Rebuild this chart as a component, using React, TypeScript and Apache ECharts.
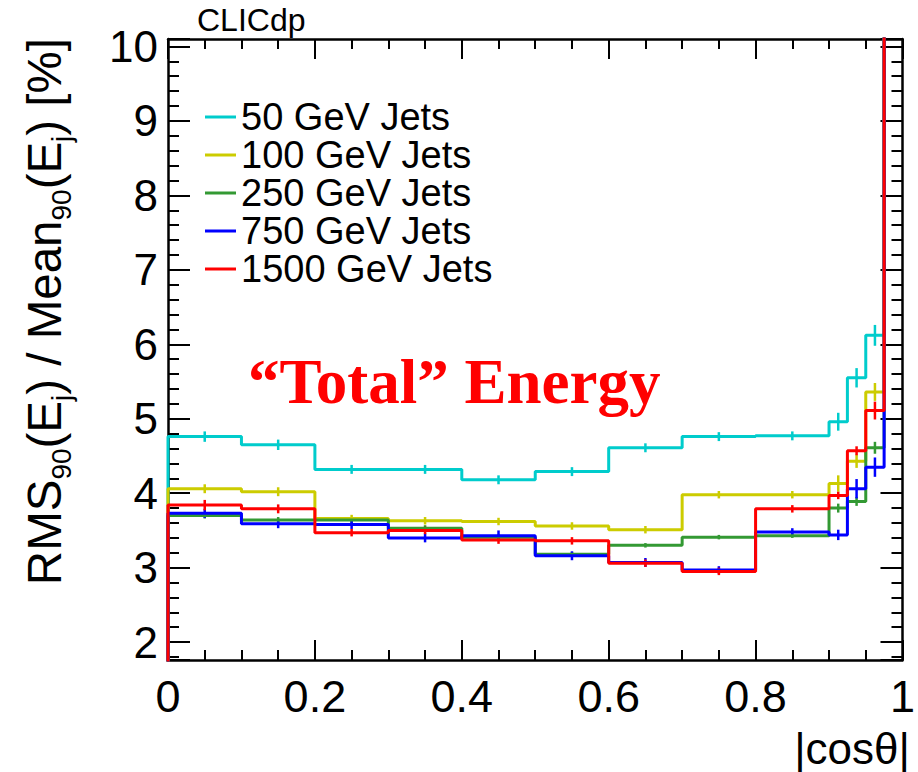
import React, { useEffect, useRef } from "react";
import * as echarts from "echarts";

// |cos(theta)| bin edges: 0.1 wide in the barrel, 0.025 wide in the forward region
const BIN_EDGES = [0, 0.1, 0.2, 0.3, 0.4, 0.5, 0.6, 0.7, 0.8, 0.9, 0.925, 0.95, 0.975, 1.0];

const SERIES_NAMES = ["50 GeV Jets", "100 GeV Jets", "250 GeV Jets", "750 GeV Jets", "1500 GeV Jets"];
const SERIES_COLORS = ["#00CCCC", "#CCCC00", "#339933", "#0000FF", "#FF0000"];

// RMS90 / Mean90 [%] per bin
const JETS_50 = [4.76, 4.65, 4.32, 4.32, 4.18, 4.29, 4.61, 4.76, 4.77, 4.96, 5.55, 6.12];
const JETS_100 = [4.06, 4.02, 3.66, 3.63, 3.62, 3.56, 3.51, 3.98, 3.98, 4.13, 4.43, 5.36];
const JETS_250 = [3.7, 3.64, 3.64, 3.53, 3.41, 3.18, 3.3, 3.41, 3.43, 3.8, 3.89, 4.61];
const JETS_750 = [3.73, 3.59, 3.58, 3.4, 3.43, 3.16, 3.07, 2.97, 3.48, 3.44, 4.06, 4.35];
const JETS_1500 = [3.84, 3.79, 3.47, 3.5, 3.37, 3.36, 3.06, 2.95, 3.79, 3.97, 4.57, 5.11];

// statistical uncertainties per bin
const ERR_50 = [0.07, 0.07, 0.06, 0.06, 0.06, 0.06, 0.06, 0.06, 0.06, 0.12, 0.13, 0.14];
const ERR_100 = [0.06, 0.06, 0.05, 0.05, 0.05, 0.05, 0.05, 0.05, 0.05, 0.11, 0.09, 0.12];
const ERR_250 = [0.04, 0.04, 0.04, 0.04, 0.04, 0.03, 0.03, 0.03, 0.03, 0.06, 0.06, 0.08];
const ERR_750 = [0.06, 0.06, 0.06, 0.06, 0.07, 0.06, 0.06, 0.05, 0.05, 0.07, 0.13, 0.13];
const ERR_1500 = [0.07, 0.06, 0.05, 0.05, 0.05, 0.05, 0.05, 0.05, 0.05, 0.05, 0.06, 0.12];

// last bin (0.975-1.0) lies above the plotted range for every energy
const LAST_BIN = [12, 12, 12, 12, 12];

const VALUES = [JETS_50, JETS_100, JETS_250, JETS_750, JETS_1500];
const ERRORS = [ERR_50, ERR_100, ERR_250, ERR_750, ERR_1500];

const X_TICK_LABELS = ["0", "0.2", "0.4", "0.6", "0.8", "1"];

const Y_MIN = 1.76;
const Y_MAX = 10.1;

const SANS = "'Liberation Sans', Arial, Helvetica, sans-serif";

function histOutline(values: number[], last: number): number[][] {
  const pts: number[][] = [[BIN_EDGES[0], 0]];
  values.forEach((v, i) => pts.push([BIN_EDGES[i], v]));
  pts.push([BIN_EDGES[values.length], last]);
  pts.push([BIN_EDGES[values.length + 1], last]);
  return pts;
}

function errorPoints(values: number[], errs: number[]): number[][] {
  return values.map((v, i) => [(BIN_EDGES[i] + BIN_EDGES[i + 1]) / 2, v, errs[i]]);
}

export default function App() {
  const ref = useRef<HTMLDivElement>(null);

  useEffect(() => {
    if (!ref.current) return;
    const chart = echarts.init(ref.current, null, { renderer: "svg" });

    const series: any[] = [];
    SERIES_NAMES.forEach((name, k) => {
      const color = SERIES_COLORS[k];
      series.push({
        name,
        type: "line",
        step: "end",
        data: histOutline(VALUES[k], LAST_BIN[k]),
        symbol: "none",
        showSymbol: false,
        color,
        itemStyle: { color },
        lineStyle: { color, width: 3 },
        clip: true,
        xAxisIndex: 0,
        yAxisIndex: 0,
      });
      series.push({
        name: name + " err",
        type: "custom",
        data: errorPoints(VALUES[k], ERRORS[k]),
        encode: { x: 0, y: 1 },
        clip: true,
        xAxisIndex: 0,
        yAxisIndex: 0,
        renderItem: (_params: any, api: any) => {
          const x = api.value(0);
          const v = api.value(1);
          const e = api.value(2);
          const lo = api.coord([x, v - e]);
          const hi = api.coord([x, v + e]);
          return {
            type: "line",
            shape: { x1: lo[0], y1: lo[1], x2: hi[0], y2: hi[1] },
            style: { stroke: color, lineWidth: 2.5 },
          };
        },
      });
    });

    const xBase = {
      type: "value",
      min: 0,
      max: 1,
      interval: 0.2,
      splitLine: { show: false },
      axisLine: { show: true, onZero: false, lineStyle: { color: "#000", width: 2.5 } },
      axisTick: { show: true, inside: true, length: 20, lineStyle: { color: "#000", width: 2 } },
      minorTick: { show: true, splitNumber: 4, length: 10, lineStyle: { color: "#000", width: 2 } },
    };
    const yBase = {
      type: "value",
      min: Y_MIN,
      max: Y_MAX,
      splitNumber: 8,
      splitLine: { show: false },
      axisLine: { show: true, onZero: false, lineStyle: { color: "#000", width: 2.5 } },
      axisTick: { show: true, inside: true, length: 22, lineStyle: { color: "#000", width: 2 } },
      minorTick: { show: true, splitNumber: 5, length: 11, lineStyle: { color: "#000", width: 2 } },
    };

    chart.setOption({
      animation: false,
      backgroundColor: "#fff",
      grid: { left: 168, right: 8, top: 39, bottom: 112, containLabel: false },
      legend: {
        data: SERIES_NAMES,
        orient: "vertical",
        left: 205,
        top: 98,
        padding: 0,
        itemGap: 0,
        icon: "rect",
        itemWidth: 31,
        itemHeight: 3,
        selectedMode: false,
        textStyle: { fontFamily: SANS, fontSize: 38, lineHeight: 38, color: "#000", padding: [0, 0, 0, 0] },
      },
      xAxis: [
        {
          ...xBase,
          position: "bottom",
          axisLabel: {
            show: true,
            margin: 14,
            fontFamily: SANS,
            fontSize: 45,
            color: "#000",
            formatter: (v: number) => X_TICK_LABELS[Math.round(v / 0.2)] ?? "",
          },
        },
        { ...xBase, position: "top", axisLabel: { show: false } },
      ],
      yAxis: [
        {
          ...yBase,
          position: "left",
          axisLabel: {
            show: true,
            margin: 10,
            fontFamily: SANS,
            fontSize: 44,
            color: "#000",
            showMinLabel: false,
            showMaxLabel: false,
          },
        },
        { ...yBase, position: "right", axisLabel: { show: false } },
      ],
      series,
      graphic: [
        {
          type: "text",
          x: 197,
          y: 20,
          style: { text: "CLICdp", font: `32px ${SANS}`, fill: "#000", verticalAlign: "middle" },
        },
        {
          type: "text",
          x: 248,
          y: 382,
          style: {
            text: "\u201CTotal\u201D Energy",
            font: `bold 63px 'Liberation Serif', 'Times New Roman', serif`,
            fill: "#FF0000",
            verticalAlign: "middle",
          },
        },
        {
          type: "text",
          x: 910,
          y: 748,
          style: {
            text: "|cos\u03B8|",
            font: `44px ${SANS}`,
            fill: "#000",
            align: "right",
            verticalAlign: "middle",
          },
        },
        {
          type: "text",
          x: 44,
          y: 38,
          rotation: Math.PI / 2,
          style: {
            text: "{m|RMS}{s|90}{m|(E}{s|j}{m|) / Mean}{s|90}{m|(E}{s|j}{m|) [%]}",
            align: "right",
            verticalAlign: "middle",
            fill: "#000",
            rich: {
              m: { fontFamily: SANS, fontSize: 47.5, lineHeight: 48, verticalAlign: "bottom", fill: "#000" },
              s: { fontFamily: SANS, fontSize: 28, lineHeight: 48, height: 14, verticalAlign: "bottom", fill: "#000" },
            },
          },
        },
      ],
    });

    return () => chart.dispose();
  }, []);

  return (
    <div
      ref={ref}
      style={{ position: "fixed", left: 0, top: 0, width: 918, height: 772, background: "#fff" }}
    />
  );
}
